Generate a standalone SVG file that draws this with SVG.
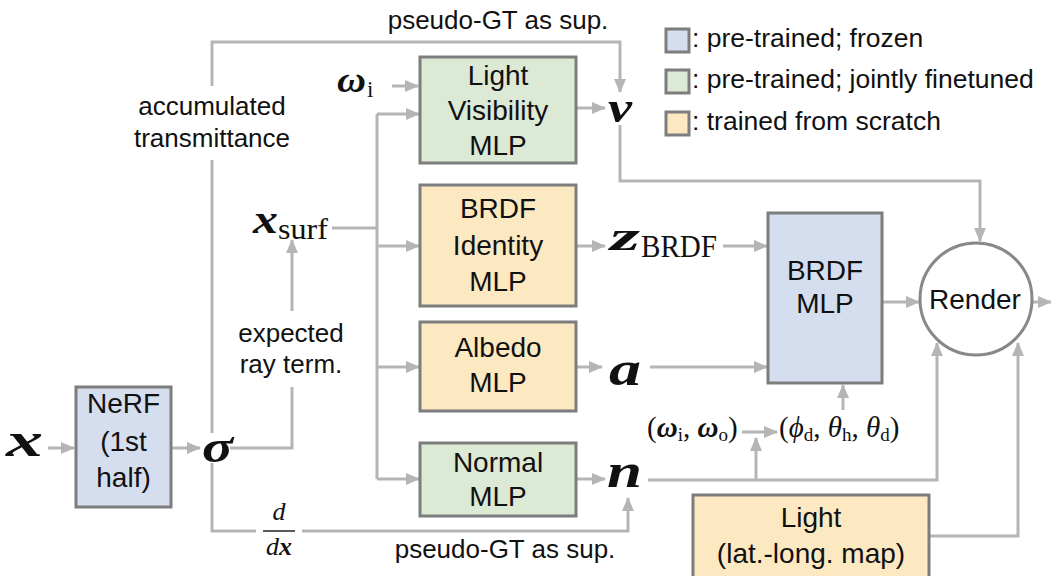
<svg xmlns="http://www.w3.org/2000/svg" width="1051" height="576" viewBox="0 0 1051 576">
<style>
.box{stroke:#7d7d7d;stroke-width:3}
.blue{fill:#d5deee}
.green{fill:#dbe9d5}
.yellow{fill:#fce9c2}
.lbl{font-family:"Liberation Sans",Arial,sans-serif;font-size:28px;fill:#111;text-anchor:middle}
.ann{font-family:"Liberation Sans",Arial,sans-serif;font-size:26px;fill:#111;text-anchor:middle}
.leg{font-family:"Liberation Sans",Arial,sans-serif;font-size:26.5px;fill:#111}
.m{font-family:"Liberation Serif","DejaVu Serif",serif;fill:#111}
.bi{font-weight:bold;font-style:italic}
.it{font-style:italic}
.c{fill:none;stroke:#b5b5b5;stroke-width:3}
.a{marker-end:url(#ah)}
</style>
<defs>
<marker id="ah" markerUnits="userSpaceOnUse" markerWidth="14" markerHeight="12" refX="13" refY="6" orient="auto">
<path d="M0,0 L14,6 L0,12 z" fill="#b5b5b5"/>
</marker>
</defs>
<rect width="1051" height="576" fill="#fff"/>

<g id="connectors">
<path class="c a" d="M212,86 V42 H620 V92"/>
<path class="c" d="M212,160 V433"/>
<path class="c" d="M230,448 H292 V387"/>
<path class="c a" d="M292,311 V240"/>
<path class="c" d="M212,463 V531 H256"/>
<path class="c a" d="M302,531 H628 V498"/>
<path class="c" d="M332,228 H377 M377,114 V479"/>
<path class="c a" d="M377,114 H419"/>
<path class="c a" d="M377,246 H419"/>
<path class="c a" d="M377,367 H419"/>
<path class="c a" d="M377,479 H419"/>
<path class="c a" d="M392,86 H418"/>
<path class="c a" d="M48,448 H74"/>
<path class="c a" d="M171,448 H200"/>
<path class="c a" d="M576,108 H605"/>
<path class="c a" d="M620,125 V181 H980 V241"/>
<path class="c a" d="M576,246 H605"/>
<path class="c a" d="M723,246 H767"/>
<path class="c a" d="M576,367 H602"/>
<path class="c a" d="M650,367 H767"/>
<path class="c a" d="M576,479 H605"/>
<path class="c a" d="M648,480 H937 V343"/>
<path class="c a" d="M756,480 V438"/>
<path class="c a" d="M742,432 H777"/>
<path class="c a" d="M843,410 V385"/>
<path class="c a" d="M882,302 H919"/>
<path class="c a" d="M1033,302 H1051"/>
<path class="c a" d="M929,536 H1018 V343"/>
</g>

<g id="legend">
<rect class="box blue" x="666" y="29" width="23" height="23"/>
<rect class="box green" x="666" y="70" width="23" height="23"/>
<rect class="box yellow" x="666" y="112" width="23" height="23"/>
<text class="leg" x="692" y="47">: pre-trained; frozen</text>
<text class="leg" x="692" y="88">: pre-trained; jointly finetuned</text>
<text class="leg" x="692" y="130">: trained from scratch</text>
</g>

<g id="nerf">
<rect class="box blue" x="76" y="387" width="95" height="120"/>
<text class="lbl" x="123.5" y="413">NeRF</text>
<text class="lbl" x="123.5" y="451">(1st</text>
<text class="lbl" x="123.5" y="487">half)</text>
</g>

<g id="light-visibility">
<rect class="box green" x="420" y="57" width="156" height="106"/>
<text class="lbl" x="498" y="85">Light</text>
<text class="lbl" x="498" y="120">Visibility</text>
<text class="lbl" x="498" y="155">MLP</text>
</g>

<g id="brdf-identity">
<rect class="box yellow" x="420" y="185" width="156" height="121"/>
<text class="lbl" x="498" y="218">BRDF</text>
<text class="lbl" x="498" y="255">Identity</text>
<text class="lbl" x="498" y="291">MLP</text>
</g>

<g id="albedo">
<rect class="box yellow" x="420" y="322" width="156" height="89"/>
<text class="lbl" x="498" y="357">Albedo</text>
<text class="lbl" x="498" y="392">MLP</text>
</g>

<g id="normal">
<rect class="box green" x="420" y="443" width="156" height="73"/>
<text class="lbl" x="498" y="472">Normal</text>
<text class="lbl" x="498" y="506">MLP</text>
</g>

<g id="brdf-mlp">
<rect class="box blue" x="768" y="213" width="114" height="170"/>
<text class="lbl" x="825" y="280">BRDF</text>
<text class="lbl" x="825" y="313">MLP</text>
</g>

<g id="render">
<circle cx="976" cy="299" r="56" fill="#fff" stroke="#888" stroke-width="3"/>
<text class="lbl" x="975" y="309">Render</text>
</g>

<g id="light">
<rect class="box yellow" x="693" y="495" width="236" height="90"/>
<text class="lbl" x="811" y="527">Light</text>
<text class="lbl" x="811" y="563">(lat.-long. map)</text>
</g>

<g id="annotations">
<text class="ann" x="498" y="29">pseudo-GT as sup.</text>
<text class="ann" x="212" y="115">accumulated</text>
<text class="ann" x="212" y="147">transmittance</text>
<text class="ann" x="291" y="342">expected</text>
<text class="ann" x="291" y="373">ray term.</text>
<text class="ann" x="505" y="558">pseudo-GT as sup.</text>
</g>

<g id="math">
<text class="m bi" x="6" y="456" font-size="48" textLength="37" lengthAdjust="spacingAndGlyphs">x</text>
<text class="m bi" x="202" y="462" font-size="46" textLength="31" lengthAdjust="spacingAndGlyphs">σ</text>
<text class="m bi" x="253" y="233" font-size="40" textLength="25" lengthAdjust="spacingAndGlyphs">x</text>
<text class="m" x="278" y="239" font-size="30" textLength="50" lengthAdjust="spacingAndGlyphs">surf</text>
<text class="m bi" x="337" y="92" font-size="36" textLength="29" lengthAdjust="spacingAndGlyphs">ω</text>
<text class="m" x="367" y="97" font-size="23">i</text>
<text class="m bi" x="608" y="122" font-size="44" textLength="24" lengthAdjust="spacingAndGlyphs">v</text>
<text class="m bi" x="610" y="250" font-size="42" textLength="30" lengthAdjust="spacingAndGlyphs">z</text>
<text class="m" x="641" y="257" font-size="31" textLength="76" lengthAdjust="spacingAndGlyphs">BRDF</text>
<text class="m bi" x="609" y="385" font-size="48" textLength="32" lengthAdjust="spacingAndGlyphs">a</text>
<text class="m bi" x="607" y="487" font-size="48" textLength="35" lengthAdjust="spacingAndGlyphs">n</text>
<text class="m it" x="279" y="520" font-size="26" text-anchor="middle">d</text>
<line x1="263" y1="531" x2="295" y2="531" stroke="#222" stroke-width="1.5"/>
<text class="m" x="279" y="555" font-size="26" text-anchor="middle"><tspan class="it">d</tspan><tspan class="bi">x</tspan></text>
<text class="m" x="647" y="437" font-size="29">(<tspan class="bi">ω</tspan><tspan font-size="19" dy="4">i</tspan><tspan dy="-4">, </tspan><tspan class="bi">ω</tspan><tspan font-size="19" dy="4">o</tspan><tspan dy="-4">)</tspan></text>
<text class="m" x="779" y="437" font-size="29">(<tspan class="it">ϕ</tspan><tspan font-size="19" dy="4">d</tspan><tspan dy="-4">, </tspan><tspan class="it">θ</tspan><tspan font-size="19" dy="4">h</tspan><tspan dy="-4">, </tspan><tspan class="it">θ</tspan><tspan font-size="19" dy="4">d</tspan><tspan dy="-4">)</tspan></text>
</g>
</svg>
